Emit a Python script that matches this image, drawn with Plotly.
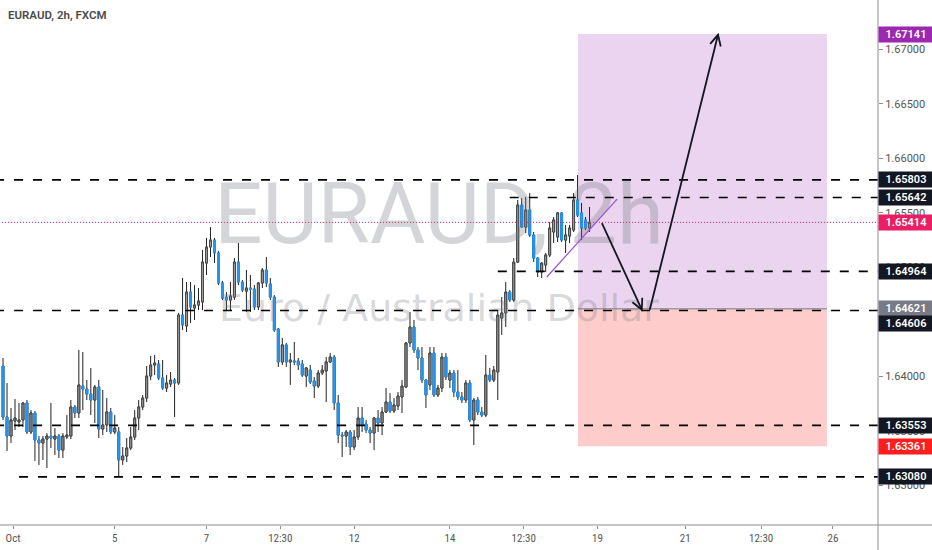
import math
import plotly.graph_objects as go

# ---------------- data ----------------
bar_index = list(range(-4, 144))          # 2h bar number, bar 0 = 1 Oct 00:00

open_ = [1.64097,1.63629,1.63455,1.63592,1.63583,1.63602,1.63758,1.63492,1.63666,1.63418,
         1.63391,1.63427,1.63455,1.63427,1.63455,1.63326,1.63446,1.63455,1.63721,1.63666,
         1.63913,1.63886,1.63840,1.63785,1.63904,1.63519,1.63556,1.63675,1.63492,1.63492,
         1.63235,1.63272,1.63345,1.63446,1.63620,1.63721,1.63803,1.64005,1.64106,1.64115,
         1.63987,1.63895,1.63932,1.63968,1.63941,1.64564,1.64464,1.64775,1.64629,1.64656,
         1.64684,1.65041,1.65188,1.65252,1.65133,1.64858,1.64729,1.64702,1.64729,1.65050,
         1.64867,1.64784,1.64812,1.64803,1.64638,1.64858,1.64977,1.64849,1.64729,1.64436,
         1.64134,1.64290,1.64134,1.64143,1.64143,1.64115,1.64005,1.64060,1.63959,1.63913,
         1.64033,1.64051,1.64134,1.64179,1.63758,1.63464,1.63455,1.63492,1.63354,1.63446,
         1.63620,1.63565,1.63510,1.63482,1.63620,1.63574,1.63675,1.63767,1.63684,1.63730,
         1.63813,1.63904,1.64308,1.64454,1.64244,1.64170,1.63968,1.63923,1.64216,1.63831,
         1.63895,1.64179,1.63968,1.64033,1.63858,1.63813,1.63785,1.63941,1.63602,1.63785,
         1.63675,1.63647,1.64014,1.63968,1.64042,1.64537,1.64583,1.64775,1.64702,1.65050,
         1.65573,1.65371,1.65527,1.65298,1.65087,1.64959,1.65023,1.65115,1.65326,1.65280,
         1.65500,1.65252,1.65289,1.65344,1.65619,1.65500,1.65436,1.65362]
high_ = [1.64170,1.63941,1.63712,1.63794,1.63758,1.63767,1.63785,1.63693,1.63684,1.63455,
         1.63455,1.63482,1.63758,1.63528,1.63473,1.63482,1.63647,1.63785,1.63739,1.64244,
         1.64225,1.63968,1.64079,1.63923,1.63968,1.63877,1.63803,1.63712,1.63647,1.63537,
         1.63354,1.63437,1.63537,1.63693,1.63785,1.63831,1.64097,1.64189,1.64198,1.64152,
         1.64152,1.64014,1.64042,1.63987,1.64583,1.64904,1.64867,1.64867,1.64839,1.64812,
         1.65161,1.65271,1.65371,1.65271,1.65151,1.64876,1.64775,1.64867,1.65087,1.65225,
         1.64885,1.64977,1.64931,1.64839,1.64867,1.64995,1.65096,1.64904,1.64748,1.64445,
         1.64354,1.64308,1.64216,1.64317,1.64170,1.64152,1.64088,1.64106,1.63996,1.64060,
         1.64106,1.64179,1.64216,1.64198,1.63831,1.63492,1.63510,1.63510,1.63510,1.63721,
         1.63721,1.63602,1.63537,1.63629,1.63693,1.63721,1.63895,1.63849,1.63803,1.63858,
         1.63968,1.64317,1.64592,1.64519,1.64271,1.64271,1.63978,1.64271,1.64271,1.63923,
         1.64216,1.64216,1.64060,1.64060,1.64060,1.63858,1.63968,1.63968,1.63803,1.63813,
         1.63721,1.64198,1.64079,1.64097,1.64610,1.64729,1.64867,1.64794,1.65087,1.65619,
         1.65637,1.65647,1.65683,1.65326,1.65096,1.65050,1.65133,1.65417,1.65463,1.65509,
         1.65509,1.65390,1.65390,1.65683,1.65848,1.65592,1.65463,1.65555]
low_ =  [1.63602,1.63317,1.63391,1.63510,1.63537,1.63537,1.63473,1.63473,1.63226,1.63189,
         1.63235,1.63161,1.63345,1.63281,1.63253,1.63253,1.63427,1.63427,1.63620,1.63620,
         1.63693,1.63785,1.63647,1.63574,1.63437,1.63464,1.63492,1.63473,1.63473,1.63079,
         1.63189,1.63217,1.63326,1.63418,1.63510,1.63693,1.63767,1.63968,1.64014,1.63968,
         1.63877,1.63858,1.63904,1.63629,1.63923,1.64427,1.64409,1.64491,1.64519,1.64610,
         1.64610,1.64931,1.65096,1.65041,1.64839,1.64702,1.64610,1.64610,1.64702,1.64839,
         1.64775,1.64592,1.64592,1.64610,1.64610,1.64812,1.64821,1.64702,1.64409,1.64088,
         1.64106,1.64088,1.63923,1.64106,1.64060,1.63996,1.63904,1.63932,1.63803,1.63895,
         1.64014,1.63767,1.64124,1.63693,1.63391,1.63262,1.63354,1.63281,1.63326,1.63418,
         1.63492,1.63482,1.63391,1.63326,1.63492,1.63464,1.63666,1.63666,1.63666,1.63693,
         1.63666,1.63895,1.64271,1.64216,1.64060,1.63941,1.63712,1.63877,1.63813,1.63813,
         1.63858,1.63968,1.63895,1.63813,1.63785,1.63758,1.63758,1.63583,1.63372,1.63647,
         1.63629,1.63629,1.63950,1.63950,1.63785,1.64381,1.64454,1.64684,1.64684,1.65041,
         1.65362,1.65316,1.65280,1.65050,1.64913,1.64904,1.64959,1.65096,1.65225,1.65234,
         1.65234,1.65133,1.65225,1.65326,1.65463,1.65252,1.65344,1.65326]
close_ = [1.63629,1.63455,1.63602,1.63620,1.63602,1.63758,1.63492,1.63666,1.63418,1.63391,
         1.63427,1.63455,1.63437,1.63455,1.63326,1.63455,1.63464,1.63721,1.63666,1.63923,
         1.63886,1.63840,1.63785,1.63904,1.63519,1.63556,1.63675,1.63492,1.63528,1.63235,
         1.63272,1.63345,1.63446,1.63620,1.63721,1.63803,1.64005,1.64106,1.64124,1.63987,
         1.63895,1.63941,1.63968,1.63941,1.64564,1.64473,1.64775,1.64638,1.64656,1.64693,
         1.65050,1.65188,1.65252,1.65133,1.64858,1.64720,1.64702,1.64739,1.65050,1.64867,
         1.64794,1.64812,1.64803,1.64638,1.64858,1.64977,1.64858,1.64729,1.64427,1.64134,
         1.64290,1.64134,1.64152,1.64134,1.64106,1.64014,1.64079,1.63950,1.63913,1.64033,
         1.64060,1.64134,1.64179,1.63758,1.63464,1.63455,1.63492,1.63354,1.63446,1.63620,
         1.63556,1.63510,1.63482,1.63620,1.63574,1.63675,1.63767,1.63684,1.63739,1.63822,
         1.63913,1.64308,1.64454,1.64244,1.64170,1.63968,1.63831,1.64216,1.63831,1.63895,
         1.64179,1.63996,1.64033,1.63858,1.63813,1.63785,1.63941,1.63602,1.63785,1.63675,
         1.63647,1.64014,1.63968,1.64060,1.64564,1.64583,1.64775,1.64702,1.65050,1.65573,
         1.65371,1.65527,1.65298,1.65087,1.64959,1.65041,1.65115,1.65362,1.65436,1.65500,
         1.65252,1.65298,1.65362,1.65619,1.65481,1.65362,1.65362,1.65414]

tick_pos = [-1.5, 24, 47, 65.5, 84, 108, 126.5, 145, 167, 186, 204]
tick_text = ["Oct", "5", "7", "12:30", "12", "14", "12:30", "19", "21", "12:30", "26"]

# horizontal support / resistance levels and where each one starts (bar number)
levels = [1.65803, 1.65642, 1.64964, 1.64606, 1.63553, 1.63080]
level_start = [-6, 123, 120, -6, -6, 0]

last_price = 1.65414
entry_price, target_price, stop_price = 1.64621, 1.67141, 1.63361
position_x = [140.1, 202.5]

trend_x = [132.3, 149.9]
trend_y = [1.64913, 1.65628]
arrow1 = [(146.1, 1.65408), (156.1, 1.64613)]
arrow2 = [(158.1, 1.64613), (175.2, 1.67134)]

label_vals = [1.67141, 1.65803, 1.65642, 1.65414, 1.64964, 1.64621, 1.64606, 1.63553, 1.63361, 1.63080]
label_cols = ["#9C27B0", "#131722", "#131722", "#E91E63", "#131722", "#787B86", "#131722",
              "#131722", "#FF1E1E", "#131722"]
label_shift = [0, 0, 0, 0, 0, 0, -13, 0, 0, 0]

# ---------------- layout geometry ----------------
W, H = 932, 550
ML, MR, MT, MB = 0, 54, 0, 25
PW, PH = W - ML - MR, H - MT - MB
xr = [-4.76, 215.3]
yr = [1.62639, 1.67453]
sx = PW / (xr[1] - xr[0])
sy = PH / (yr[1] - yr[0])

fig = go.Figure()

# watermark (drawn first -> below the candles)
wm_y1 = yr[1] - 222 / sy
wm_y2 = yr[1] - 311 / sy
xc = (xr[0] + xr[1]) / 2
fig.add_trace(go.Scatter(x=[xc], y=[wm_y1], mode="text", text=["EURAUD, 2h"],
                         textfont=dict(family="Roboto", size=85, color="rgba(120,123,134,0.32)"),
                         hoverinfo="skip", showlegend=False, cliponaxis=False))
fig.add_trace(go.Scatter(x=[xc], y=[wm_y2], mode="text", text=["Euro / Australian Dollar"],
                         textfont=dict(family="DejaVu Sans", size=38, color="rgba(120,123,134,0.30)"),
                         hoverinfo="skip", showlegend=False, cliponaxis=False))

# wicks
fig.add_trace(go.Candlestick(
    x=bar_index, open=open_, high=high_, low=low_, close=close_,
    increasing=dict(line=dict(color="#222222", width=1), fillcolor="#222222"),
    decreasing=dict(line=dict(color="#222222", width=1), fillcolor="#222222"),
    whiskerwidth=0, hoverinfo="skip", showlegend=False))
# bodies
body_hi = [max(o, c) for o, c in zip(open_, close_)]
body_lo = [min(o, c) for o, c in zip(open_, close_)]
fig.add_trace(go.Candlestick(
    x=bar_index, open=open_, high=body_hi, low=body_lo, close=close_,
    increasing=dict(line=dict(color="#4a4a4a", width=1), fillcolor="#9E9E9E"),
    decreasing=dict(line=dict(color="#2196F3", width=1), fillcolor="#2196F3"),
    whiskerwidth=0, hoverinfo="skip", showlegend=False))

shapes = []
# long-position tool
shapes.append(dict(type="rect", xref="x", yref="y", x0=position_x[0], x1=position_x[1],
                   y0=entry_price, y1=target_price, fillcolor="rgba(156,39,176,0.2)",
                   line=dict(width=0), layer="below"))
shapes.append(dict(type="rect", xref="x", yref="y", x0=position_x[0], x1=position_x[1],
                   y0=stop_price, y1=entry_price, fillcolor="rgba(255,0,0,0.2)",
                   line=dict(width=0), layer="below"))
shapes.append(dict(type="line", xref="x", yref="y", x0=position_x[0], x1=position_x[1],
                   y0=entry_price, y1=entry_price, line=dict(color="#787B86", width=1)))
# dashed levels
for lv, st in zip(levels, level_start):
    shapes.append(dict(type="line", xref="x", yref="y", x0=st, x1=xr[1] + 1, y0=lv, y1=lv,
                       line=dict(color="#000000", width=1.7, dash="9px,10px")))
# last price dotted line
shapes.append(dict(type="line", xref="x", yref="y", x0=xr[0] - 1, x1=xr[1] + 1,
                   y0=last_price, y1=last_price,
                   line=dict(color="#E91E63", width=1, dash="1px,2px")))
# purple trend line
shapes.append(dict(type="line", xref="x", yref="y", x0=trend_x[0], x1=trend_x[1],
                   y0=trend_y[0], y1=trend_y[1], line=dict(color="#9D4EDD", width=1.2)))


def arrow(tail, tip, L=12, ang=math.radians(27)):
    out = [dict(type="line", xref="x", yref="y", x0=tail[0], y0=tail[1], x1=tip[0], y1=tip[1],
                line=dict(color="#131722", width=1.8))]
    dx = (tail[0] - tip[0]) * sx
    dy = -(tail[1] - tip[1]) * sy
    n = math.hypot(dx, dy)
    ux, uy = dx / n, dy / n
    pts = []
    for s in (ang, -ang):
        rx = ux * math.cos(s) - uy * math.sin(s)
        ry = ux * math.sin(s) + uy * math.cos(s)
        pts.append((tip[0] + L * rx / sx, tip[1] - L * ry / sy))
    path = "M {},{} L {},{} L {},{}".format(pts[0][0], pts[0][1], tip[0], tip[1], pts[1][0], pts[1][1])
    out.append(dict(type="path", xref="x", yref="y", path=path,
                    line=dict(color="#131722", width=1.8)))
    return out


shapes += arrow(arrow1[0], arrow1[1])
shapes += arrow(arrow2[0], arrow2[1])

# pane separators
shapes.append(dict(type="line", xref="paper", yref="paper", x0=0, x1=W / PW, y0=0, y1=0,
                   line=dict(color="#8a8d96", width=1)))
shapes.append(dict(type="line", xref="paper", yref="paper", x0=1, x1=1, y0=-MB / PH, y1=1,
                   line=dict(color="#8a8d96", width=1)))

annotations = []
annotations.append(dict(xref="paper", yref="paper", x=0, y=1, xanchor="left", yanchor="top",
                        xshift=6, yshift=-6, showarrow=False, text="EURAUD, 2h, FXCM",
                        font=dict(family="Roboto", size=11.5, color="#4a4a4a", weight=600)))
for v, c, s in zip(label_vals, label_cols, label_shift):
    annotations.append(dict(xref="paper", yref="y", x=1, y=v, xanchor="left", yanchor="middle",
                            xshift=0, yshift=s, showarrow=False, text="{:.5f}".format(v),
                            bgcolor=c, width=52, height=13, borderpad=1, align="center",
                            font=dict(family="Roboto", size=11, color="#ffffff", weight=600)))

fig.update_layout(
    width=W, height=H, margin=dict(l=ML, r=MR, t=MT, b=MB),
    paper_bgcolor="#ffffff", plot_bgcolor="#ffffff",
    shapes=shapes, annotations=annotations, showlegend=False,
    xaxis=dict(range=xr, rangeslider=dict(visible=False), showgrid=False, zeroline=False,
               tickmode="array", tickvals=tick_pos, ticktext=tick_text,
               ticks="outside", ticklen=3, tickcolor="#8a8d96", showline=False,
               tickfont=dict(family="Liberation Sans Narrow, Roboto Condensed, Roboto", size=11,
                             color="#555555")),
    yaxis=dict(range=yr, side="right", showgrid=False, zeroline=False,
               tick0=1.625, dtick=0.005, tickformat=".5f",
               ticks="outside", ticklen=4, tickcolor="#8a8d96", showline=False,
               tickfont=dict(family="Roboto", size=11, color="#555555")),
)

fig.write_html("out.html", config={"displayModeBar": False},
               post_script="document.body.style.margin='0px';document.body.style.padding='0px';")
